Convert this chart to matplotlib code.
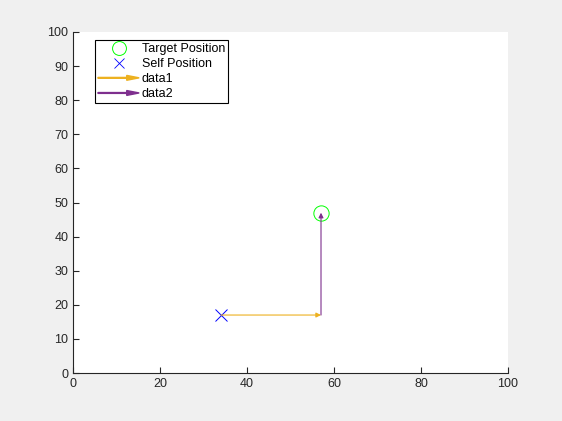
import matplotlib
matplotlib.use("Agg")
import matplotlib.pyplot as plt
from matplotlib.lines import Line2D
from matplotlib.patches import FancyArrow
from matplotlib.legend_handler import HandlerPatch

plt.rcParams['font.family'] = ['Liberation Sans', 'DejaVu Sans']

# data
target = [57, 47]
self_pos = [34, 17]
arrow_starts = [[34, 17], [57, 17]]
arrow_deltas = [[23, 0], [0, 30]]
arrow_names = ["data1", "data2"]
arrow_colors = ["#EDB120", "#7E2F8E"]

fig = plt.figure(figsize=(5.62, 4.21), dpi=100, facecolor="#F0F0F0")
ax = fig.add_axes([0.130, 0.114, 0.774, 0.810])

ax.plot(target[0], target[1], 'o', mfc='none', mec='#00FF00', ms=11, mew=0.7)
ax.plot(self_pos[0], self_pos[1], 'x', color='#0000FF', ms=9, mew=0.7)

handles = [Line2D([], [], ls='none', marker='o', mfc='none', mec='#00FF00', ms=10, mew=0.7),
           Line2D([], [], ls='none', marker='x', color='#0000FF', ms=7, mew=0.6)]
for (x0, y0), (dx, dy), c, name in zip(arrow_starts, arrow_deltas, arrow_colors, arrow_names):
    ax.annotate("", xy=(x0 + dx, y0 + dy), xytext=(x0, y0),
                arrowprops=dict(arrowstyle='-|>', color=c, lw=0.8,
                                mutation_scale=7, shrinkA=0, shrinkB=0))
    handles.append(FancyArrow(0, 0, 1, 0, color=c, label=name))


def make_arrow(legend, orig_handle, xdescent, ydescent, width, height, fontsize):
    return FancyArrow(-xdescent, height / 2, width, 0, width=0.6,
                      head_width=3.5, head_length=9, length_includes_head=True,
                      color=orig_handle.get_facecolor(), lw=0.3)


ax.set_xlim(0, 100)
ax.set_ylim(0, 100)
ax.set_xticks(range(0, 101, 20))
ax.set_yticks(range(0, 101, 10))
for s in ['top', 'right']:
    ax.spines[s].set_visible(False)
for s in ['left', 'bottom']:
    ax.spines[s].set_color('#262626')
    ax.spines[s].set_linewidth(0.8)
ax.tick_params(direction='in', length=4, width=0.8, colors='#262626', labelsize=9)

leg = ax.legend(handles, ["Target Position", "Self Position"] + arrow_names,
                loc='upper left', bbox_to_anchor=(0.05, 0.977), fontsize=9,
                frameon=True, fancybox=False, edgecolor='black', framealpha=1,
                handlelength=3.3, handletextpad=0.2, labelspacing=0.25,
                borderpad=0.25, borderaxespad=0,
                handler_map={FancyArrow: HandlerPatch(patch_func=make_arrow)})
leg.get_frame().set_linewidth(0.8)

fig.savefig("out.png", dpi=100, facecolor=fig.get_facecolor())
